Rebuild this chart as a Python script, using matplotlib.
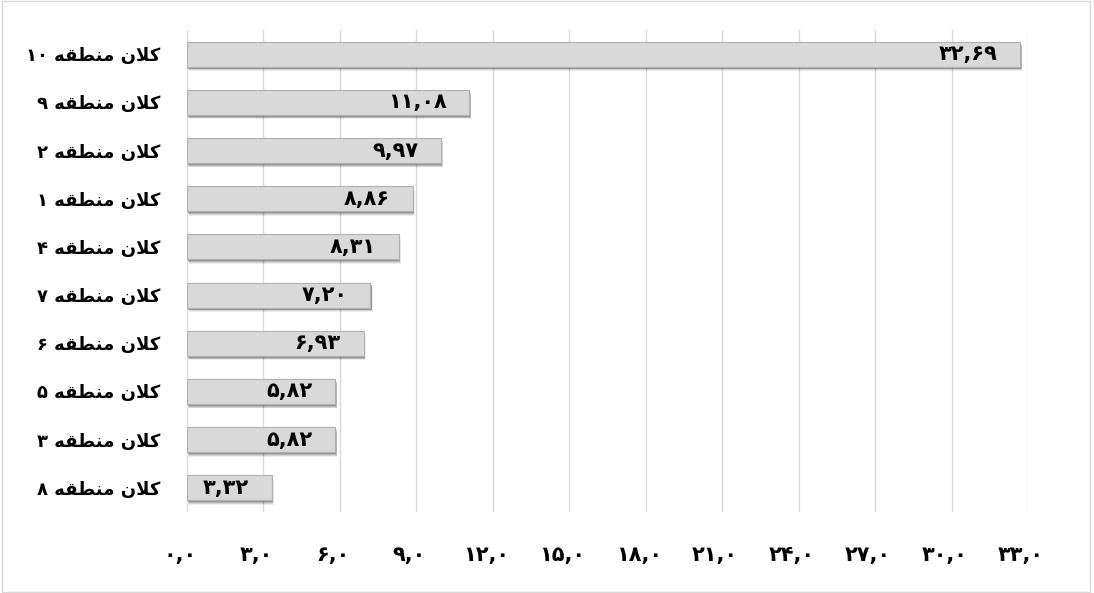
import matplotlib
matplotlib.use("Agg")
import matplotlib.pyplot as plt
import matplotlib.patheffects as pe
import matplotlib.transforms as mtransforms
from matplotlib.patches import Rectangle

# data, top to bottom as in the chart
categories = [
    "کلان منطقه ۱۰",
    "کلان منطقه ۹",
    "کلان منطقه ۲",
    "کلان منطقه ۱",
    "کلان منطقه ۴",
    "کلان منطقه ۷",
    "کلان منطقه ۶",
    "کلان منطقه ۵",
    "کلان منطقه ۳",
    "کلان منطقه ۸",
]
values = [32.69, 11.08, 9.97, 8.86, 8.31, 7.20, 6.93, 5.82, 5.82, 3.32]
x_ticks = [0, 3, 6, 9, 12, 15, 18, 21, 24, 27, 30, 33]

# minimal arabic shaping: (isolated, final, initial, medial)
FORMS = {
    "ا": ("\uFE8D", "\uFE8E", None, None),
    "ل": ("\uFEDD", "\uFEDE", "\uFEDF", "\uFEE0"),
    "ن": ("\uFEE5", "\uFEE6", "\uFEE7", "\uFEE8"),
    "م": ("\uFEE1", "\uFEE2", "\uFEE3", "\uFEE4"),
    "ط": ("\uFEC1", "\uFEC2", "\uFEC3", "\uFEC4"),
    "ق": ("\uFED5", "\uFED6", "\uFED7", "\uFED8"),
    "ه": ("\uFEE9", "\uFEEA", "\uFEEB", "\uFEEC"),
    "ک": ("\uFB8E", "\uFB8F", "\uFB90", "\uFB91"),
}
LAM_ALEF = ("\uFEFB", "\uFEFC")
FA_DIGITS = "۰۱۲۳۴۵۶۷۸۹"


def joins_left(ch):
    return ch in FORMS and FORMS[ch][2] is not None


def shape_word(word):
    out = []
    i = 0
    while i < len(word):
        ch = word[i]
        if ch not in FORMS:
            out.append(ch)
            i += 1
            continue
        prev_joins = i > 0 and joins_left(word[i - 1])
        if ch == "ل" and i + 1 < len(word) and word[i + 1] == "ا":
            out.append(LAM_ALEF[1] if prev_joins else LAM_ALEF[0])
            i += 2
            continue
        nxt = word[i + 1] if i + 1 < len(word) else None
        next_joins = nxt in FORMS and joins_left(ch)
        iso, fin, ini, med = FORMS[ch]
        if prev_joins and next_joins:
            out.append(med)
        elif prev_joins:
            out.append(fin)
        elif next_joins:
            out.append(ini)
        else:
            out.append(iso)
        i += 1
    return "".join(reversed(out))


def rtl(text):
    words = []
    for w in text.split(" "):
        if all(c in FA_DIGITS or c == "," for c in w):
            words.append(w)
        else:
            words.append(shape_word(w))
    return " ".join(reversed(words))


def fa_num(v, decimals):
    s = f"{v:.{decimals}f}".replace(".", ",")
    return "".join(FA_DIGITS[int(c)] if c.isdigit() else c for c in s)


fig = plt.figure(figsize=(10.94, 5.93), dpi=100)
ax = fig.add_axes([0.1709, 0.1366, 0.7688, 0.8128])

# chart border
fig.patches.append(
    Rectangle((2 / 1094, 1 / 593), 1088 / 1094, 591 / 593, transform=fig.transFigure,
              fill=False, edgecolor="#d9d9d9", linewidth=1)
)

ypos = list(range(len(values)))
# soft drop shadow, stacked to fake a blur
shadow = [
    pe.SimplePatchShadow(offset=(1.5, -3.2), shadow_rgbFace="black", alpha=0.07),
    pe.SimplePatchShadow(offset=(1.2, -2.6), shadow_rgbFace="black", alpha=0.10),
    pe.SimplePatchShadow(offset=(1.0, -2.0), shadow_rgbFace="black", alpha=0.14),
    pe.SimplePatchShadow(offset=(0.8, -1.4), shadow_rgbFace="black", alpha=0.18),
    pe.Normal(),
]
bars = ax.barh(ypos, values, height=0.52, color="#d9d9d9", edgecolor="#b0b0b0",
               linewidth=0.8, zorder=3)
for b in bars:
    b.set_path_effects(shadow)

for y, v in zip(ypos, values):
    ax.annotate(fa_num(v, 2), (v, y), xytext=(-23, 0), textcoords="offset pixels",
                ha="right", va="center", fontsize=15, fontweight="bold", color="black",
                zorder=4)

ax.set_xlim(0, 33)
ax.set_ylim(len(values) - 0.5, -0.5)
ax.set_xticks(x_ticks)
ax.set_xticklabels([fa_num(t, 1) for t in x_ticks], fontsize=15, fontweight="bold")
ax.set_yticks(ypos)
ax.set_yticklabels([rtl(c) for c in categories], fontsize=13, fontweight="bold")
ax.tick_params(axis="x", length=0, pad=24)
ax.tick_params(axis="y", length=0, pad=19)

# x labels sit slightly left of their gridlines in the original
shift = mtransforms.ScaledTranslation(-7 / 100, 0, fig.dpi_scale_trans)
for lbl in ax.get_xticklabels():
    lbl.set_transform(lbl.get_transform() + shift)

ax.grid(axis="x", color="#d9d9d9", linewidth=1, zorder=0)
ax.set_axisbelow(True)
for s in ax.spines.values():
    s.set_visible(False)

fig.savefig("out.png", dpi=100)
